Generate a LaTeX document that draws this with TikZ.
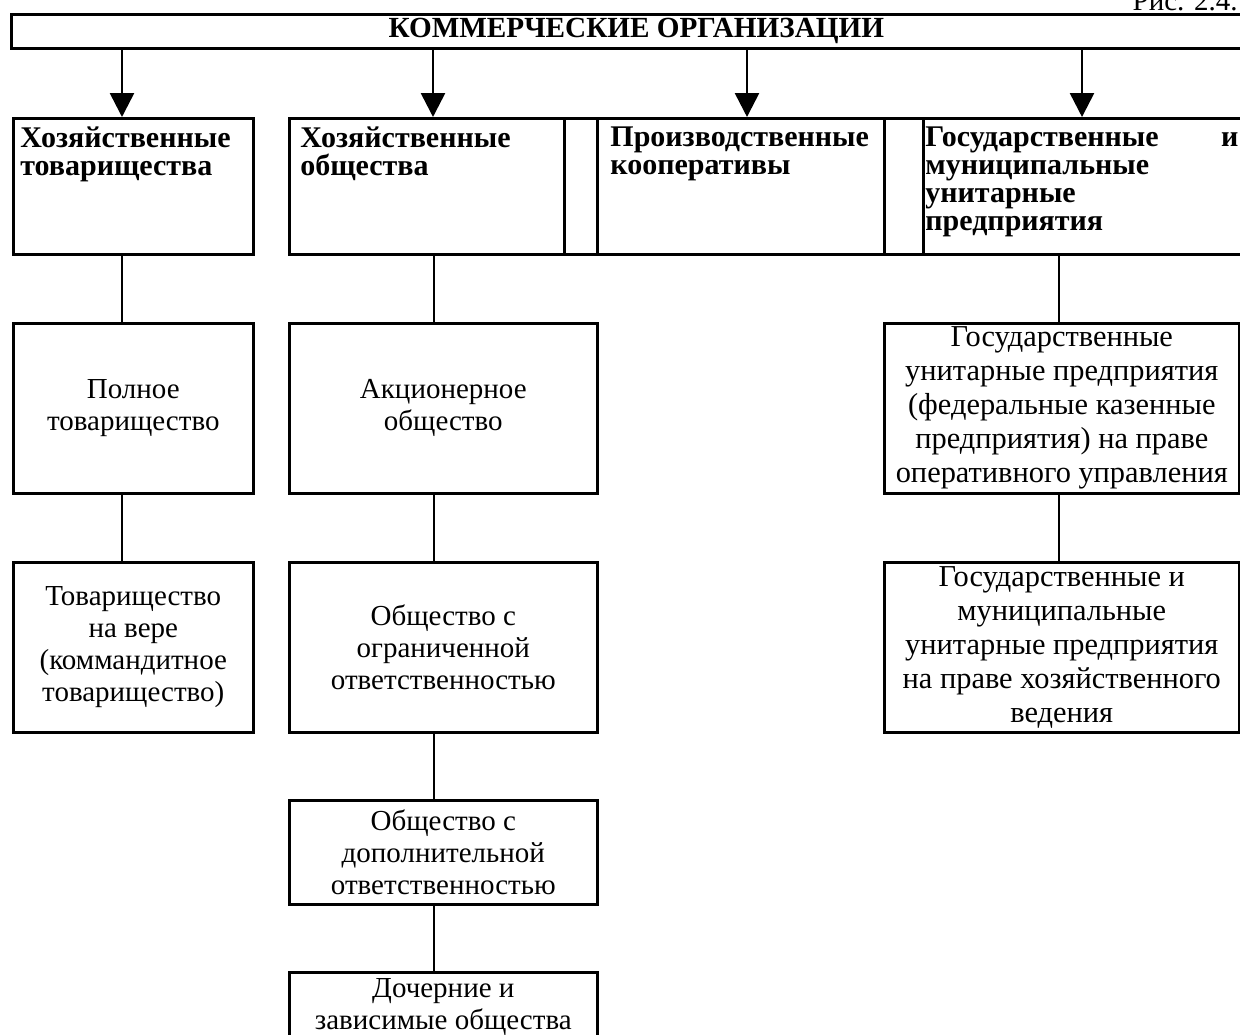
\documentclass[tikz,border=0pt]{standalone}
\usepackage{fontspec}
\setmainfont{Liberation Serif}
\usetikzlibrary{arrows.meta}
\newcommand{\txt}{\fontsize{14.5}{16}\selectfont}
\newcommand{\gtxt}{\fontsize{15.2}{17}\selectfont}
\newcommand{\htxt}{\fontsize{15}{14}\selectfont\bfseries}
\tikzset{
  box/.style={draw,line width=1.3pt,inner sep=0pt,anchor=north west},
  sub/.style={box,align=center,font=\txt},
  head/.style={anchor=north west,inner sep=0pt,align=left,font=\htxt},
  lnk/.style={line width=1.3pt},
  arr/.style={lnk,-{Triangle[length=12pt,width=12pt]}}
}

\begin{document}
\begin{tikzpicture}[x=0.5pt,y=-0.5pt]
\useasboundingbox (0,0) rectangle (1240,1034);
\clip (0,0) rectangle (1240,1034);
% шапка
\node[anchor=base east,inner sep=0pt,font=\txt] (ris) at (1238,10) {Рис. 2.4.};
\node[box,minimum width=625pt,minimum height=17pt,font=\fontsize{14.6}{14}\selectfont\bfseries] (kom) at (10,13) {КОММЕРЧЕСКИЕ ОРГАНИЗАЦИИ};
% первый ряд
\node[box,minimum width=120pt,minimum height=68pt] (hoztov) at (12,117) {};
\node[box,minimum width=137.5pt,minimum height=68pt] (hozob) at (288,117) {};
\node[box,minimum width=16.5pt,minimum height=68pt] (s1) at (563,117) {};
\node[box,minimum width=143.5pt,minimum height=68pt] (prk) at (596,117) {};
\node[box,minimum width=19.5pt,minimum height=68pt] (s2) at (883,117) {};
\node[box,minimum width=170pt,minimum height=68pt] (gup) at (922,117) {};
\node[head] (hoztovt) at (20,126) {Хозяйственные\\товарищества};
\node[head] (hozobt) at (300,126) {Хозяйственные\\общества};
\node[head] (prkt) at (610,126) {Производственные\\кооперативы};
\node[head,text width=156.5pt] (gupt) at (925,126) {Государственные\hfill и\\муниципальные\\унитарные\\предприятия};
% стрелки
\foreach \a/\n in {122/hoztov,433/hozob,747/prk,1082/gup}{
  \coordinate (x\n) at (\a,0);
  \draw[arr] (x\n |- kom.south) -- (x\n |- \n.north);
}
% второй ряд
\node[sub,minimum width=120pt,minimum height=85pt] (pt) at (12,322) {Полное\\товарищество};
\node[sub,minimum width=154pt,minimum height=85pt] (ao) at (288,322) {Акционерное\\общество};
\node[sub,font=\gtxt,minimum width=177.5pt,minimum height=85pt] (gupo) at (883,322) {Государственные\\унитарные предприятия\\(федеральные казенные\\предприятия) на праве\\оперативного управления};
% третий ряд
\node[sub,minimum width=120pt,minimum height=85pt] (tv) at (12,561) {Товарищество\\на вере\\(коммандитное\\товарищество)};
\node[sub,minimum width=154pt,minimum height=85pt] (ooo) at (288,561) {Общество с\\ограниченной\\ответственностью};
\node[sub,font=\gtxt,minimum width=177.5pt,minimum height=85pt] (gmup) at (883,561) {Государственные и\\муниципальные\\унитарные предприятия\\на праве хозяйственного\\ведения};
% низ
\node[sub,minimum width=154pt,minimum height=52pt] (odo) at (288,799) {Общество с\\дополнительной\\ответственностью};
\node[sub,minimum width=154pt,minimum height=35pt] (dz) at (288,971) {Дочерние и\\зависимые общества};
% связи
\coordinate (c1) at (122,0);
\coordinate (c2) at (434,0);
\coordinate (c3) at (1059,0);
\draw[lnk] (c1 |- hoztov.south) -- (c1 |- pt.north);
\draw[lnk] (c1 |- pt.south) -- (c1 |- tv.north);
\draw[lnk] (c2 |- hozob.south) -- (c2 |- ao.north);
\draw[lnk] (c2 |- ao.south) -- (c2 |- ooo.north);
\draw[lnk] (c2 |- ooo.south) -- (c2 |- odo.north);
\draw[lnk] (c2 |- odo.south) -- (c2 |- dz.north);
\draw[lnk] (c3 |- gup.south) -- (c3 |- gupo.north);
\draw[lnk] (c3 |- gupo.south) -- (c3 |- gmup.north);
\end{tikzpicture}
\end{document}
